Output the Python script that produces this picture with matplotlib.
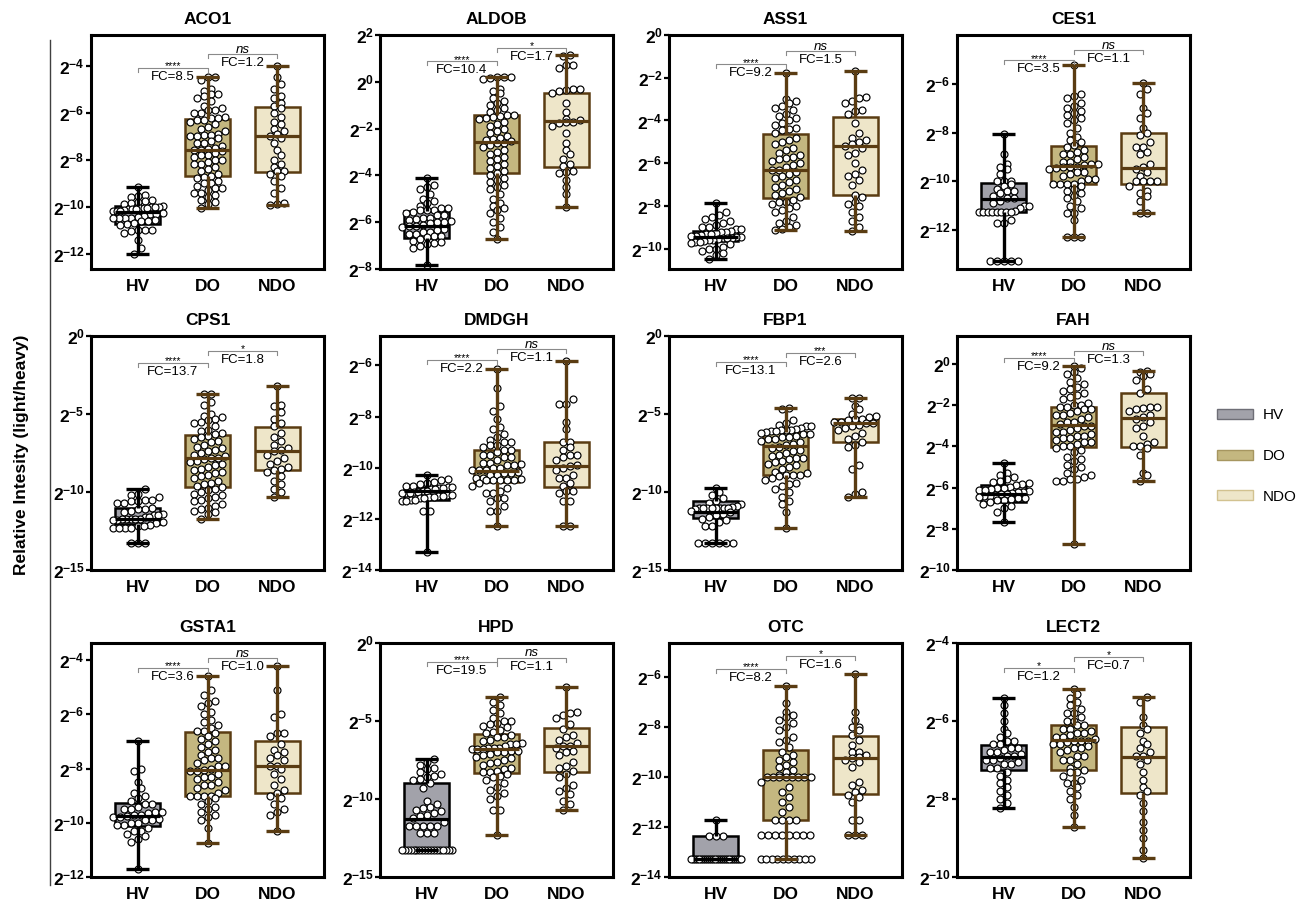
import numpy as np
import matplotlib
matplotlib.use('Agg')
import matplotlib.pyplot as plt
from matplotlib.patches import Patch
from matplotlib.lines import Line2D
from matplotlib.ticker import FixedLocator, NullLocator, FuncFormatter
import matplotlib.transforms as mtransforms

plt.rcParams['font.family'] = ['Liberation Sans', 'DejaVu Sans']
plt.rcParams['mathtext.fontset'] = 'custom'
plt.rcParams['mathtext.rm'] = 'Liberation Sans'
plt.rcParams['mathtext.bf'] = 'Liberation Sans:bold'
plt.rcParams['mathtext.it'] = 'Liberation Sans:italic'

# ---------------- data (log2 exponents of light/heavy ratio) ----------------
GROUPS = ['HV', 'DO', 'NDO']
PROTEINS = ['ACO1', 'ALDOB', 'ASS1', 'CES1', 'CPS1', 'DMDGH',
            'FBP1', 'FAH', 'GSTA1', 'HPD', 'OTC', 'LECT2']

# box statistics per group: (min, q1, median, q3, max), exponents of 2
ACO1_BOX = [(-12.0, -10.72, -10.21, -9.99, -9.18), (-10.07, -8.71, -7.59, -6.26, -4.5), (-9.91, -8.52, -7.01, -5.76, -4.0)]
ALDOB_BOX = [(-7.83, -6.67, -6.15, -5.53, -4.13), (-6.71, -3.91, -2.56, -1.44, 0.22), (-5.35, -3.62, -1.69, -0.5, 1.14)]
ASS1_BOX = [(-10.5, -9.65, -9.45, -9.17, -7.85), (-9.14, -7.65, -6.31, -4.62, -1.79), (-9.18, -7.49, -5.21, -3.85, -1.68)]
CES1_BOX = [(-13.28, -11.27, -10.72, -10.07, -8.07), (-12.3, -10.1, -9.38, -8.55, -5.24), (-11.31, -10.1, -9.45, -8.0, -5.96)]
CPS1_BOX = [(-13.3, -12.06, -11.7, -11.04, -9.83), (-11.7, -9.68, -7.85, -6.36, -3.7), (-10.3, -8.62, -7.36, -5.83, -3.23)]
DMDGH_BOX = [(-13.28, -11.26, -10.93, -10.77, -10.27), (-12.29, -10.54, -10.14, -9.32, -6.13), (-12.29, -10.74, -9.94, -9.0, -5.83)]
FBP1_BOX = [(-13.28, -11.67, -11.28, -10.56, -9.74), (-12.31, -8.89, -7.02, -6.15, -4.6), (-10.32, -6.81, -5.57, -5.31, -3.96)]
FAH_BOX = [(-7.67, -6.7, -6.29, -5.9, -4.8), (-8.75, -4.02, -2.98, -2.07, -0.11), (-5.69, -4.02, -2.63, -1.41, -0.36)]
GSTA1_BOX = [(-11.72, -10.13, -9.76, -9.27, -6.98), (-10.74, -9.02, -8.07, -6.65, -4.59), (-10.31, -8.9, -7.92, -7.0, -4.22)]
HPD_BOX = [(-13.29, -13.18, -11.26, -8.97, -7.41), (-12.29, -8.31, -6.77, -5.81, -3.46), (-10.68, -8.27, -6.6, -5.43, -2.82)]
OTC_BOX = [(-13.29, -13.29, -13.29, -12.35, -11.72), (-13.29, -11.71, -10.0, -8.91, -6.36), (-12.32, -10.68, -9.25, -8.34, -5.87)]
LECT2_BOX = [(-8.23, -7.26, -6.92, -6.62, -5.41), (-8.72, -7.26, -6.49, -6.1, -5.18), (-9.51, -7.85, -6.92, -6.15, -5.38)]

ACO1_HV = [-9.18, -9.5, -9.55, -9.6, -9.7, -9.75, -9.8, -9.85, -9.9, -9.95, -10.0, -10.0, -10.0, -10.05, -10.05, -10.05,
           -10.1, -10.1, -10.1, -10.15, -10.2, -10.2, -10.2, -10.25, -10.3, -10.3, -10.4, -10.45, -10.5, -10.5, -10.5,
           -10.5, -10.55, -10.6, -10.6, -10.7, -10.75, -10.8, -11.0, -11.0, -11.0, -11.05, -11.1, -11.4, -11.75, -12.0]
ACO1_DO = [-4.5, -4.5, -4.6, -5.0, -5.1, -5.2, -5.2, -5.3, -5.4, -5.5, -5.7, -5.8, -5.9, -5.9, -6.0, -6.0, -6.2, -6.25,
           -6.25, -6.3, -6.3, -6.4, -6.5, -6.6, -6.7, -6.8, -6.9, -6.95, -6.95, -7.0, -7.0, -7.1, -7.2, -7.3, -7.3, -7.4,
           -7.5, -7.55, -7.6, -7.6, -7.65, -7.7, -7.8, -7.8, -7.9, -8.0, -8.0, -8.1, -8.2, -8.2, -8.3, -8.4, -8.5, -8.6,
           -8.7, -8.75, -8.8, -8.9, -9.0, -9.0, -9.1, -9.2, -9.2, -9.3, -9.4, -9.4, -9.5, -9.6, -9.7, -9.8, -9.9, -10.07]
ACO1_NDO = [-4.0, -4.5, -4.8, -5.0, -5.3, -5.4, -5.6, -5.7, -5.8, -6.0, -6.2, -6.4, -6.5, -6.7, -6.8, -6.9, -7.0, -7.1,
            -7.3, -7.6, -7.8, -8.0, -8.2, -8.3, -8.5, -8.5, -8.6, -8.7, -8.9, -9.2, -9.4, -9.85, -9.9, -9.91]

ALDOB_HV = [-4.13, -4.4, -4.5, -4.6, -4.8, -5.0, -5.1, -5.2, -5.3, -5.4, -5.4, -5.5, -5.5, -5.5, -5.55, -5.6, -5.7, -5.7,
            -5.8, -5.8, -5.85, -5.9, -5.95, -6.0, -6.0, -6.05, -6.1, -6.15, -6.15, -6.2, -6.3, -6.35, -6.4, -6.4, -6.5,
            -6.5, -6.6, -6.6, -6.65, -6.7, -6.8, -6.85, -6.9, -6.95, -7.0, -7.1, -7.83]
ALDOB_DO = [0.22, 0.2, 0.2, 0.15, 0.1, -0.3, -0.4, -0.5, -0.7, -0.8, -0.9, -1.0, -1.1, -1.2, -1.3, -1.4, -1.4, -1.45,
            -1.5, -1.55, -1.6, -1.7, -1.8, -1.9, -2.0, -2.1, -2.2, -2.3, -2.4, -2.45, -2.5, -2.55, -2.6, -2.6, -2.7,
            -2.8, -2.9, -3.0, -3.1, -3.2, -3.3, -3.4, -3.5, -3.6, -3.7, -3.8, -3.9, -4.0, -4.1, -4.2, -4.3, -4.4, -4.5,
            -4.6, -4.8, -5.0, -5.2, -5.3, -5.4, -5.5, -5.6, -5.8, -6.0, -6.2, -6.4, -6.71]
ALDOB_NDO = [1.14, 1.1, 0.7, 0.6, 0.7, -0.3, -0.3, -0.35, -0.4, -0.5, -0.9, -1.3, -1.6, -1.65, -1.7, -1.7, -1.75, -1.9,
             -2.2, -2.6, -2.9, -3.1, -3.3, -3.5, -3.6, -3.8, -3.85, -3.9, -4.2, -4.5, -4.8, -5.35]

ASS1_HV = [-7.85, -8.3, -8.4, -8.5, -8.6, -8.7, -8.8, -8.9, -9.0, -9.0, -9.1, -9.1, -9.15, -9.2, -9.2, -9.25, -9.3, -9.3,
           -9.35, -9.4, -9.4, -9.45, -9.45, -9.5, -9.5, -9.5, -9.55, -9.6, -9.6, -9.65, -9.7, -9.7, -9.75, -9.8, -9.9,
           -10.0, -10.0, -10.1, -10.2, -10.3, -10.5]
ASS1_DO = [-1.79, -3.0, -3.1, -3.2, -3.3, -3.4, -3.5, -3.7, -3.8, -3.9, -4.0, -4.1, -4.2, -4.35, -4.4, -4.45, -4.6, -4.8,
           -4.9, -5.0, -5.1, -5.3, -5.4, -5.5, -5.6, -5.7, -5.75, -5.8, -5.9, -6.0, -6.1, -6.2, -6.3, -6.3, -6.4, -6.5,
           -6.6, -6.7, -6.8, -6.9, -7.0, -7.1, -7.2, -7.3, -7.4, -7.5, -7.6, -7.7, -7.8, -7.8, -7.9, -8.0, -8.1, -8.2,
           -8.3, -8.5, -8.7, -8.8, -8.9, -9.0, -9.1, -9.14]
ASS1_NDO = [-1.68, -2.9, -2.95, -3.1, -3.2, -3.5, -3.55, -3.7, -4.1, -4.6, -4.8, -4.9, -5.0, -5.1, -5.2, -5.3, -5.5, -5.6,
            -6.0, -6.3, -6.5, -6.6, -6.8, -7.0, -7.5, -7.6, -7.8, -7.9, -8.0, -8.3, -8.5, -8.7, -9.0, -9.18]

CES1_HV = [-8.07, -8.9, -9.3, -9.4, -9.5, -9.7, -10.0, -10.0, -10.0, -10.1, -10.2, -10.3, -10.4, -10.4, -10.5, -10.6,
           -10.7, -10.7, -10.8, -10.9, -11.0, -11.0, -11.1, -11.2, -11.25, -11.25, -11.25, -11.25, -11.25, -11.25,
           -11.25, -11.25, -11.6, -11.7, -11.7, -13.28, -13.28, -13.28, -13.28, -13.28]
CES1_DO = [-5.24, -6.4, -6.5, -6.6, -6.8, -6.9, -7.0, -7.1, -7.2, -7.3, -7.4, -7.5, -7.6, -7.8, -8.0, -8.2, -8.3, -8.4,
           -8.5, -8.6, -8.7, -8.8, -8.9, -8.9, -9.0, -9.1, -9.2, -9.2, -9.3, -9.3, -9.35, -9.4, -9.4, -9.4, -9.45, -9.5,
           -9.6, -9.6, -9.7, -9.8, -9.9, -9.9, -10.0, -10.1, -10.1, -10.1, -10.1, -10.2, -10.3, -10.4, -10.5, -10.6,
           -10.7, -10.8, -11.0, -11.1, -11.3, -11.3, -11.6, -12.3, -12.3, -12.3]
CES1_NDO = [-5.96, -6.2, -6.4, -7.0, -7.2, -7.4, -7.8, -8.0, -8.1, -8.4, -8.6, -8.6, -8.8, -8.9, -9.3, -9.4, -9.5, -9.6,
            -9.8, -10.0, -10.0, -10.0, -10.0, -10.2, -10.4, -10.5, -10.6, -10.8, -11.31, -11.31]

CPS1_HV = [-9.83, -10.1, -10.2, -10.3, -10.5, -10.5, -10.6, -10.6, -10.7, -10.7, -11.0, -11.1, -11.1, -11.2, -11.3, -11.4,
           -11.5, -11.5, -11.6, -11.6, -11.7, -11.7, -11.7, -11.7, -11.7, -11.8, -11.8, -11.9, -12.0, -12.1, -12.2,
           -12.2, -12.3, -12.3, -12.3, -12.3, -13.3, -13.3, -13.3]
CPS1_DO = [-3.7, -3.7, -4.2, -4.4, -5.0, -5.1, -5.2, -5.3, -5.4, -5.5, -5.6, -5.8, -6.0, -6.1, -6.2, -6.3, -6.4, -6.5,
           -6.6, -6.7, -6.8, -7.0, -7.1, -7.2, -7.3, -7.4, -7.5, -7.6, -7.7, -7.8, -7.85, -7.9, -8.0, -8.1, -8.2, -8.3,
           -8.4, -8.5, -8.6, -8.7, -8.8, -8.9, -9.0, -9.1, -9.3, -9.4, -9.5, -9.6, -9.7, -9.8, -9.9, -10.0, -10.1,
           -10.2, -10.3, -10.4, -10.5, -10.6, -10.8, -10.9, -11.0, -11.1, -11.2, -11.3, -11.4, -11.7]
CPS1_NDO = [-3.23, -4.4, -4.5, -4.9, -5.3, -5.6, -5.8, -6.2, -6.5, -6.7, -7.0, -7.2, -7.3, -7.4, -7.6, -7.8, -8.0, -8.2,
            -8.4, -8.5, -8.6, -8.7, -9.0, -9.3, -9.5, -9.8, -10.0, -10.3]

DMDGH_HV = [-10.27, -10.45, -10.5, -10.55, -10.6, -10.65, -10.7, -10.7, -10.75, -10.75, -10.8, -10.8, -10.85, -10.85,
            -10.9, -10.9, -10.95, -10.95, -11.0, -11.0, -11.0, -11.05, -11.05, -11.1, -11.1, -11.15, -11.15, -11.2,
            -11.2, -11.25, -11.25, -11.3, -11.3, -11.7, -11.7, -13.28]
DMDGH_DO = [-6.13, -6.9, -7.6, -7.8, -8.1, -8.4, -8.5, -8.7, -8.8, -8.9, -9.0, -9.0, -9.1, -9.1, -9.2, -9.3, -9.3, -9.4,
            -9.5, -9.5, -9.6, -9.6, -9.7, -9.8, -9.8, -9.85, -9.9, -9.9, -10.0, -10.0, -10.1, -10.1, -10.1, -10.15,
            -10.2, -10.2, -10.3, -10.3, -10.4, -10.4, -10.45, -10.5, -10.5, -10.5, -10.5, -10.5, -10.6, -10.7, -10.8,
            -10.9, -11.0, -11.0, -11.2, -11.2, -11.3, -11.5, -11.7, -11.7, -12.29]
DMDGH_NDO = [-5.83, -7.3, -7.5, -7.5, -8.2, -8.5, -9.0, -9.0, -9.2, -9.3, -9.5, -9.5, -9.6, -9.7, -9.9, -9.95, -10.0,
             -10.1, -10.3, -10.4, -10.4, -10.6, -10.7, -10.9, -10.9, -11.0, -11.3, -11.3, -12.29, -12.29]

FBP1_HV = [-9.74, -10.0, -10.2, -10.4, -10.6, -10.7, -10.8, -10.9, -10.95, -11.0, -11.0, -11.0, -11.0, -11.0, -11.0,
           -11.0, -11.0, -11.1, -11.2, -11.3, -11.4, -11.5, -11.6, -11.7, -11.8, -11.9, -12.2, -12.2, -13.28, -13.28,
           -13.28, -13.28, -13.28, -13.28]
FBP1_DO = [-4.6, -4.7, -5.4, -5.6, -5.7, -5.8, -5.8, -5.9, -5.95, -6.0, -6.0, -6.0, -6.1, -6.1, -6.15, -6.2, -6.3, -6.3,
           -6.4, -6.5, -6.5, -6.6, -6.6, -6.7, -6.8, -6.9, -7.0, -7.1, -7.2, -7.3, -7.4, -7.5, -7.6, -7.7, -7.8, -7.8,
           -7.9, -8.0, -8.1, -8.2, -8.3, -8.4, -8.5, -8.7, -8.8, -8.9, -8.9, -8.9, -9.0, -9.1, -9.2, -9.4, -9.5, -9.6,
           -9.8, -10.0, -10.3, -10.6, -10.8, -11.3, -12.31]
FBP1_NDO = [-3.96, -4.0, -4.5, -4.7, -5.0, -5.1, -5.2, -5.3, -5.3, -5.4, -5.5, -5.5, -5.6, -5.6, -5.7, -5.8, -5.9, -6.0,
            -6.2, -6.4, -6.6, -6.8, -7.0, -7.1, -8.3, -8.5, -10.0, -10.1, -10.32]

FAH_HV = [-4.8, -5.3, -5.4, -5.5, -5.6, -5.7, -5.75, -5.8, -5.85, -5.9, -5.95, -6.0, -6.0, -6.05, -6.1, -6.1, -6.15, -6.2,
          -6.2, -6.25, -6.3, -6.3, -6.35, -6.4, -6.4, -6.45, -6.5, -6.5, -6.55, -6.6, -6.6, -6.7, -6.8, -6.9, -7.0,
          -7.2, -7.67]
FAH_DO = [-0.11, -0.2, -0.4, -0.5, -0.7, -0.9, -1.0, -1.1, -1.2, -1.3, -1.4, -1.5, -1.6, -1.7, -1.9, -2.0, -2.0, -2.1,
          -2.1, -2.2, -2.2, -2.3, -2.4, -2.5, -2.5, -2.6, -2.7, -2.8, -2.8, -2.9, -3.0, -3.0, -3.1, -3.2, -3.3, -3.3,
          -3.4, -3.5, -3.5, -3.6, -3.6, -3.7, -3.8, -3.8, -3.9, -4.0, -4.0, -4.1, -4.2, -4.3, -4.5, -4.6, -4.7, -4.9,
          -5.0, -5.1, -5.3, -5.4, -5.5, -5.6, -5.6, -5.7, -5.7, -8.75]
FAH_NDO = [-0.36, -0.4, -0.5, -0.6, -0.8, -1.2, -1.4, -2.1, -2.1, -2.15, -2.2, -2.3, -2.5, -2.6, -2.7, -2.8, -3.0, -3.1,
           -3.5, -3.8, -3.9, -4.0, -4.0, -4.1, -4.4, -5.3, -5.4, -5.69]

GSTA1_HV = [-6.98, -8.0, -8.1, -8.5, -8.7, -8.9, -9.0, -9.1, -9.2, -9.3, -9.3, -9.4, -9.5, -9.5, -9.6, -9.6, -9.65,
            -9.7, -9.7, -9.75, -9.8, -9.8, -9.85, -9.9, -9.9, -10.0, -10.0, -10.1, -10.1, -10.2, -10.3, -10.3, -10.4,
            -10.5, -10.6, -10.7, -11.72]
GSTA1_DO = [-4.59, -5.1, -5.3, -5.5, -5.6, -5.7, -5.9, -6.0, -6.2, -6.3, -6.4, -6.5, -6.6, -6.6, -6.7, -6.8, -6.9, -7.0,
            -7.1, -7.2, -7.3, -7.4, -7.5, -7.6, -7.6, -7.7, -7.8, -7.9, -7.9, -8.0, -8.07, -8.1, -8.1, -8.2, -8.3, -8.3,
            -8.4, -8.5, -8.6, -8.6, -8.7, -8.8, -8.9, -9.0, -9.0, -9.0, -9.0, -9.1, -9.2, -9.3, -9.4, -9.5, -9.6, -9.7,
            -9.8, -9.9, -10.2, -10.74]
GSTA1_NDO = [-4.22, -5.1, -6.0, -6.1, -6.7, -6.7, -6.8, -7.1, -7.3, -7.4, -7.5, -7.6, -7.7, -7.9, -7.9, -8.0, -8.2, -8.4,
             -8.6, -8.8, -8.9, -9.0, -9.1, -9.3, -9.5, -9.6, -9.7, -10.31]

HPD_HV = [-7.41, -7.6, -7.8, -8.0, -8.1, -8.3, -8.4, -8.5, -8.6, -8.7, -8.8, -9.0, -9.3, -10.1, -10.3, -10.5, -10.6,
          -10.7, -10.8, -10.9, -11.0, -11.1, -11.2, -11.5, -11.7, -11.7, -11.7, -11.7, -11.7, -12.2, -12.2, -12.2,
          -13.29, -13.29, -13.29, -13.29, -13.29, -13.29, -13.29, -13.29, -13.29, -13.29, -13.29, -13.29, -13.29,
          -13.29, -13.29, -13.29, -13.29, -13.29]
HPD_DO = [-3.46, -3.8, -4.0, -4.3, -4.5, -4.8, -5.0, -5.0, -5.1, -5.2, -5.3, -5.4, -5.6, -5.7, -5.8, -5.9, -6.0, -6.0,
          -6.2, -6.3, -6.4, -6.5, -6.5, -6.6, -6.7, -6.7, -6.75, -6.8, -6.8, -6.8, -6.9, -6.9, -7.0, -7.0, -7.1, -7.2,
          -7.3, -7.4, -7.5, -7.6, -7.7, -7.8, -8.0, -8.1, -8.2, -8.3, -8.3, -8.4, -8.5, -8.6, -8.8, -9.0, -9.2, -9.4,
          -9.6, -9.8, -10.0, -10.7, -10.7, -12.29]
HPD_NDO = [-2.82, -4.4, -4.5, -4.6, -4.8, -5.2, -5.5, -5.9, -6.0, -6.2, -6.4, -6.6, -6.6, -6.7, -6.9, -7.0, -7.2, -7.6,
           -7.9, -8.0, -8.2, -8.4, -8.6, -9.1, -9.3, -9.5, -9.7, -10.1, -10.3, -10.68]

OTC_HV = [-11.72, -12.35, -12.35, -12.35, -13.29, -13.29, -13.29, -13.29, -13.29, -13.29, -13.29, -13.29, -13.29,
          -13.29, -13.29, -13.29, -13.29, -13.29, -13.29, -13.29, -13.29, -13.29, -13.29, -13.29, -13.29, -13.29,
          -13.29, -13.29, -13.29, -13.29]
OTC_DO = [-6.36, -7.05, -7.4, -7.5, -7.6, -7.7, -7.85, -8.0, -8.1, -8.4, -8.5, -8.6, -8.8, -9.0, -9.1, -9.2, -9.3, -9.4,
          -9.5, -9.6, -9.7, -9.8, -9.9, -10.0, -10.0, -10.0, -10.0, -10.0, -10.0, -10.0, -10.0, -10.2, -10.4, -10.6,
          -10.8, -11.0, -11.2, -11.4, -11.7, -11.7, -11.7, -11.7, -12.3, -12.3, -12.3, -12.3, -12.3, -12.3, -12.3,
          -12.3, -13.29, -13.29, -13.29, -13.29, -13.29, -13.29, -13.29, -13.29, -13.29, -13.29]
OTC_NDO = [-5.87, -7.4, -7.7, -8.0, -8.0, -8.1, -8.3, -8.5, -8.7, -9.0, -9.0, -9.1, -9.2, -9.25, -9.3, -9.4, -9.6,
           -10.2, -10.3, -10.5, -10.6, -10.7, -10.8, -11.0, -11.7, -11.7, -12.32, -12.32, -12.32]

LECT2_HV = [-5.41, -5.6, -5.8, -6.0, -6.2, -6.3, -6.4, -6.5, -6.5, -6.6, -6.6, -6.7, -6.7, -6.75, -6.8, -6.8, -6.85,
            -6.9, -6.9, -6.95, -7.0, -7.0, -7.05, -7.1, -7.1, -7.2, -7.2, -7.3, -7.4, -7.5, -7.6, -7.7, -7.8, -7.9,
            -8.0, -8.1, -8.23]
LECT2_DO = [-5.18, -5.3, -5.4, -5.5, -5.6, -5.7, -5.8, -5.8, -5.9, -6.0, -6.0, -6.1, -6.1, -6.2, -6.2, -6.25, -6.3, -6.3,
            -6.35, -6.4, -6.4, -6.45, -6.5, -6.5, -6.5, -6.55, -6.6, -6.6, -6.65, -6.7, -6.7, -6.75, -6.8, -6.9, -6.9,
            -7.0, -7.0, -7.1, -7.2, -7.25, -7.3, -7.3, -7.4, -7.5, -7.6, -7.6, -7.7, -7.8, -7.9, -8.0, -8.2, -8.4, -8.72]
LECT2_NDO = [-5.38, -5.5, -5.9, -6.1, -6.2, -6.3, -6.5, -6.6, -6.7, -6.8, -6.9, -6.9, -7.0, -7.1, -7.3, -7.5, -7.7, -7.8,
             -7.9, -8.1, -8.3, -8.6, -8.8, -9.0, -9.3, -9.51]

# significance labels and fold changes (HV vs DO, DO vs NDO)
SIG_1 = ['****'] * 11 + ['*']
FC_1 = ['8.5', '10.4', '9.2', '3.5', '13.7', '2.2', '13.1', '9.2', '3.6', '19.5', '8.2', '1.2']
SIG_2 = ['ns', '*', 'ns', 'ns', '*', 'ns', '***', 'ns', 'ns', 'ns', '*', '*']
FC_2 = ['1.2', '1.7', '1.5', '1.1', '1.8', '1.1', '2.6', '1.3', '1.0', '1.1', '1.6', '0.7']

# y-axis ticks (exponents) and limits
YTICKS = [[-4, -6, -8, -10, -12], [2, 0, -2, -4, -6, -8], [0, -2, -4, -6, -8, -10], [-6, -8, -10, -12],
          [0, -5, -10, -15], [-6, -8, -10, -12, -14], [0, -5, -10, -15], [0, -2, -4, -6, -8, -10],
          [-4, -6, -8, -10, -12], [0, -5, -10, -15], [-6, -8, -10, -12, -14], [-4, -6, -8, -10]]
YLIMS = [(-12.65, -2.7), (-8, 2), (-10.95, 0), (-13.6, -4), (-15, 0), (-14, -4.85), (-15, 0), (-10, 1.35),
         (-12, -3.37), (-15, 0), (-14, -4.64), (-10, -4)]

# ---------------- layout / style ----------------
BRACKET_Y = [(0.859, 0.919), (0.888, 0.944), (0.875, 0.93), (0.892, 0.935), (0.885, 0.936), (0.897, 0.944),
             (0.89, 0.927), (0.906, 0.936), (0.894, 0.936), (0.919, 0.938), (0.889, 0.945), (0.894, 0.94)]
FIG_W, FIG_H = 1298, 902
COL_LEFT = [91, 380, 669, 957]
ROW_TOP = [35, 336, 643]
AX_W, AX_H = 233, 234
XLIM = (-0.67, 2.67)

FILL = ['#a2a2aa', '#c4b780', '#eee6c9']
EDGE = ['#000000', '#5a3c12', '#5a3c12']
LEG_EDGE = ['#6e6e76', '#a69660', '#d2c290']

data_points = {p: [globals()[f'{p}_{g}'] for g in GROUPS] for p in PROTEINS}
box_stats = {p: globals()[f'{p}_BOX'] for p in PROTEINS}


def swarm_offsets(vals, px_per_unit, px_per_x, diam=7.0, half=25.0):
    """Row-wise beeswarm layout (horizontal spread only)."""
    v = np.asarray(vals, float)
    order = np.argsort(v)
    offs = np.zeros(len(v))
    rows, cur = [], [order[0]]
    for idx in order[1:]:
        if (v[idx] - v[cur[0]]) * px_per_unit < diam * 1.0:
            cur.append(idx)
        else:
            rows.append(cur)
            cur = [idx]
    rows.append(cur)
    for r in rows:
        n = len(r)
        step = diam if n == 1 else min(diam, 2 * half / (n - 1))
        o = (np.arange(n) - (n - 1) / 2) * step
        for k, idx in enumerate(r):
            offs[idx] = o[k] / px_per_x
    return offs


fig = plt.figure(figsize=(FIG_W / 100, FIG_H / 100), dpi=100)

for i, prot in enumerate(PROTEINS):
    r, c = divmod(i, 4)
    left = COL_LEFT[c] / FIG_W
    bottom = 1 - (ROW_TOP[r] + AX_H) / FIG_H
    ax = fig.add_axes([left, bottom, AX_W / FIG_W, AX_H / FIG_H])
    ax.set_yscale('log', base=2)
    lo, hi = YLIMS[i]
    px_per_unit = AX_H / (hi - lo)
    px_per_x = AX_W / (XLIM[1] - XLIM[0])

    stats = []
    for g, (mn, q1, md, q3, mx) in zip(GROUPS, box_stats[prot]):
        stats.append(dict(whislo=2.0 ** mn, q1=2.0 ** q1, med=2.0 ** md, q3=2.0 ** q3,
                          whishi=2.0 ** mx, fliers=[], label=g))
    bp = ax.bxp(stats, positions=[0, 1, 2], widths=0.65, capwidths=0.33, patch_artist=True,
                showfliers=False)
    for k in range(3):
        bx = bp['boxes'][k]
        bx.set_facecolor(FILL[k])
        bx.set_edgecolor(EDGE[k])
        bx.set_linewidth(1.8)
        bx.set_zorder(1)
        for ln in (bp['whiskers'][2 * k], bp['whiskers'][2 * k + 1], bp['caps'][2 * k], bp['caps'][2 * k + 1]):
            ln.set_color(EDGE[k])
            ln.set_linewidth(2.4)
            ln.set_zorder(3)
            ln.set_solid_capstyle('butt')
        md = bp['medians'][k]
        md.set_color(EDGE[k])
        md.set_linewidth(2.3)
        md.set_zorder(3)

    for k, vals in enumerate(data_points[prot]):
        xo = swarm_offsets(vals, px_per_unit, px_per_x)
        ax.scatter(k + xo, 2.0 ** np.asarray(vals), s=25, facecolor='white', edgecolor='black',
                   linewidths=0.85, zorder=2)

    ax.set_xlim(*XLIM)
    ax.set_ylim(2.0 ** lo, 2.0 ** hi)
    ax.yaxis.set_major_locator(FixedLocator([2.0 ** e for e in YTICKS[i]]))
    ax.yaxis.set_minor_locator(NullLocator())
    ax.yaxis.set_major_formatter(FuncFormatter(lambda v, p: r'$\mathbf{2^{%d}}$' % int(round(np.log2(v)))))
    ax.set_xticks([0, 1, 2])
    ax.set_xticklabels(GROUPS, fontsize=12.5, fontweight='bold')
    ax.tick_params(axis='x', length=0, pad=7)
    ax.tick_params(axis='y', length=3.5, width=1.6, pad=1, labelsize=12.5)
    for sp in ax.spines.values():
        sp.set_linewidth(2.2)
    ax.set_title(prot, fontsize=12.5, fontweight='bold', pad=8)

    trans = mtransforms.blended_transform_factory(ax.transData, ax.transAxes)
    for (x0, x1), yf, sig, fc in zip([(0, 1), (1, 2)], BRACKET_Y[i], [SIG_1[i], SIG_2[i]], [FC_1[i], FC_2[i]]):
        tick = 4 / AX_H
        ax.plot([x0, x0, x1, x1], [yf - tick, yf, yf, yf - tick], transform=trans, color='#8a8a8a',
                lw=0.8, clip_on=False, zorder=4)
        xm = (x0 + x1) / 2
        if sig == 'ns':
            ax.annotate('ns', (xm, yf), xycoords=trans, xytext=(0, 0.8), textcoords='offset points',
                        ha='center', va='baseline', fontsize=9.5, fontstyle='italic')
        else:
            ax.annotate(sig, (xm, yf), xycoords=trans, xytext=(0, -1.0), textcoords='offset points',
                        ha='center', va='baseline', fontsize=7.5)
        ax.annotate('FC=' + fc, (xm, yf), xycoords=trans, xytext=(0, -2.2), textcoords='offset points',
                    ha='center', va='top', fontsize=9.5)

fig.text(22 / FIG_W, 1 - 455 / FIG_H, 'Relative Intesity (light/heavy)', rotation=90, ha='center',
         va='center', fontsize=12.5, fontweight='bold')
fig.add_artist(Line2D([50 / FIG_W, 50 / FIG_W], [1 - 40 / FIG_H, 1 - 885 / FIG_H], color='#404040', lw=1.0))

handles = [Patch(facecolor=FILL[k], edgecolor=LEG_EDGE[k], linewidth=1.0, label=GROUPS[k]) for k in range(3)]
fig.legend(handles=handles, loc='center left', bbox_to_anchor=(1203 / FIG_W, 1 - 456 / FIG_H), frameon=False,
           fontsize=11, handlelength=2.4, handleheight=0.65, labelspacing=1.75, handletextpad=0.6)

fig.savefig('out.png', dpi=100)
